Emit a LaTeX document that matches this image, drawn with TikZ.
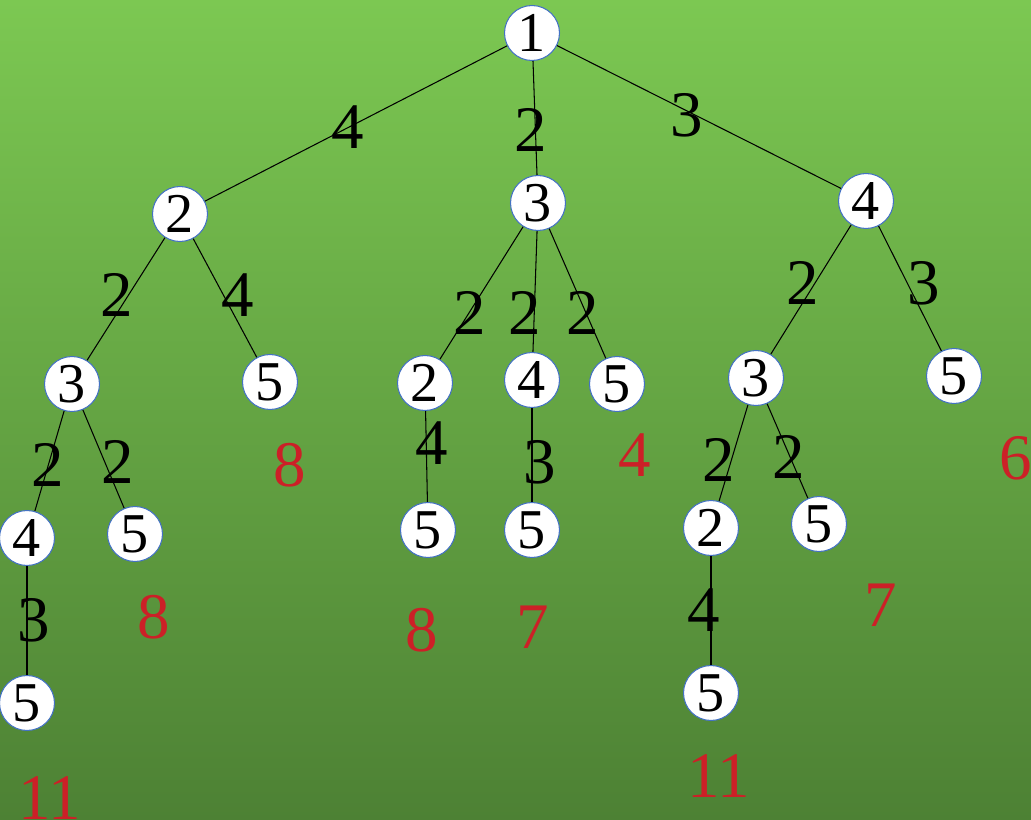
\documentclass[tikz,border=0pt]{standalone}
\usepackage{fontspec}
\setmainfont{Liberation Serif}
\usepackage{xcolor}
\usetikzlibrary{positioning}

\definecolor{bgtop}{RGB}{124,200,82}
\definecolor{bgbottom}{RGB}{77,129,52}
\definecolor{ringblue}{RGB}{68,114,196}
\definecolor{costred}{RGB}{204,32,39}

\tikzset{
    vert/.style={circle, draw=ringblue, line width=0.6pt, fill=white, minimum size=1.1cm,
        inner sep=0pt, font=\fontsize{32}{38}\selectfont},
    elab/.style={inner sep=0pt, font=\fontsize{37}{44}\selectfont},
    cost/.style={inner sep=0pt, text=costred, font=\fontsize{37}{44}\selectfont},
    edge/.style={black, line width=0.6pt}
}

\begin{document}
\begin{tikzpicture}[x=0.02cm, y=-0.02cm]
        % background
        \shade[top color=bgtop, bottom color=bgbottom] (0,0) rectangle (1031,820);
        \useasboundingbox (0,0) rectangle (1031,820);

        % tree vertices
        \foreach \n/\x/\y/\t in {r/532/33/1, a/180/214/2, b/538/203/3, c/866/201/4,
                a1/72/384/3, a2/270/382/5, a11/27/538/4, a12/135/534/5, a111/27/703/5,
                b1/425/383/2, b2/532/380/4, b3/617/384/5, b11/428/530/5, b21/532/530/5,
                c1/756/378/3, c2/954/376/5, c11/711/528/2, c12/819/524/5, c111/711/693/5}
            \node[vert] (\n) at (\x,\y) {\t};

        % edges
        \foreach \p/\q in {r/a, r/b, r/c, a/a1, a/a2, a1/a11, a1/a12, a11/a111,
                b/b1, b/b2, b/b3, b1/b11, b2/b21, c/c1, c/c2, c1/c11, c1/c12, c11/c111}
            \draw[edge] (\p) -- (\q);

        % edge weights
        \foreach \n/\x/\y/\t in {wra/348/127/4, wrb/531/130/2, wrc/687/115/3,
                waa/117/295/2, wab/238/295/4, wa1a/48/465/2, wa1b/118/462/2, wa11/34/620/3,
                wba/470/313/2, wbb/525/313/2, wbc/583/313/2, wb1/432/443/4, wb2/540/462/3,
                wca/803/283/2, wcb/924/283/3, wc1a/719/460/2, wc1b/789/457/2, wc11/704/610/4}
            \node[elab] (\n) at (\x,\y) {\t};

        % path totals
        \foreach \n/\x/\y/\t in {ta2/290/465/8, ta12/154/617/8, ta111/50/798/11,
                tb11/422/630/8, tb21/533/627/7, tb3/635/455/4,
                tc2/1016/458/6, tc12/881/605/7, tc111/719/776/11}
            \node[cost] (\n) at (\x,\y) {\t};
\end{tikzpicture}
\end{document}
